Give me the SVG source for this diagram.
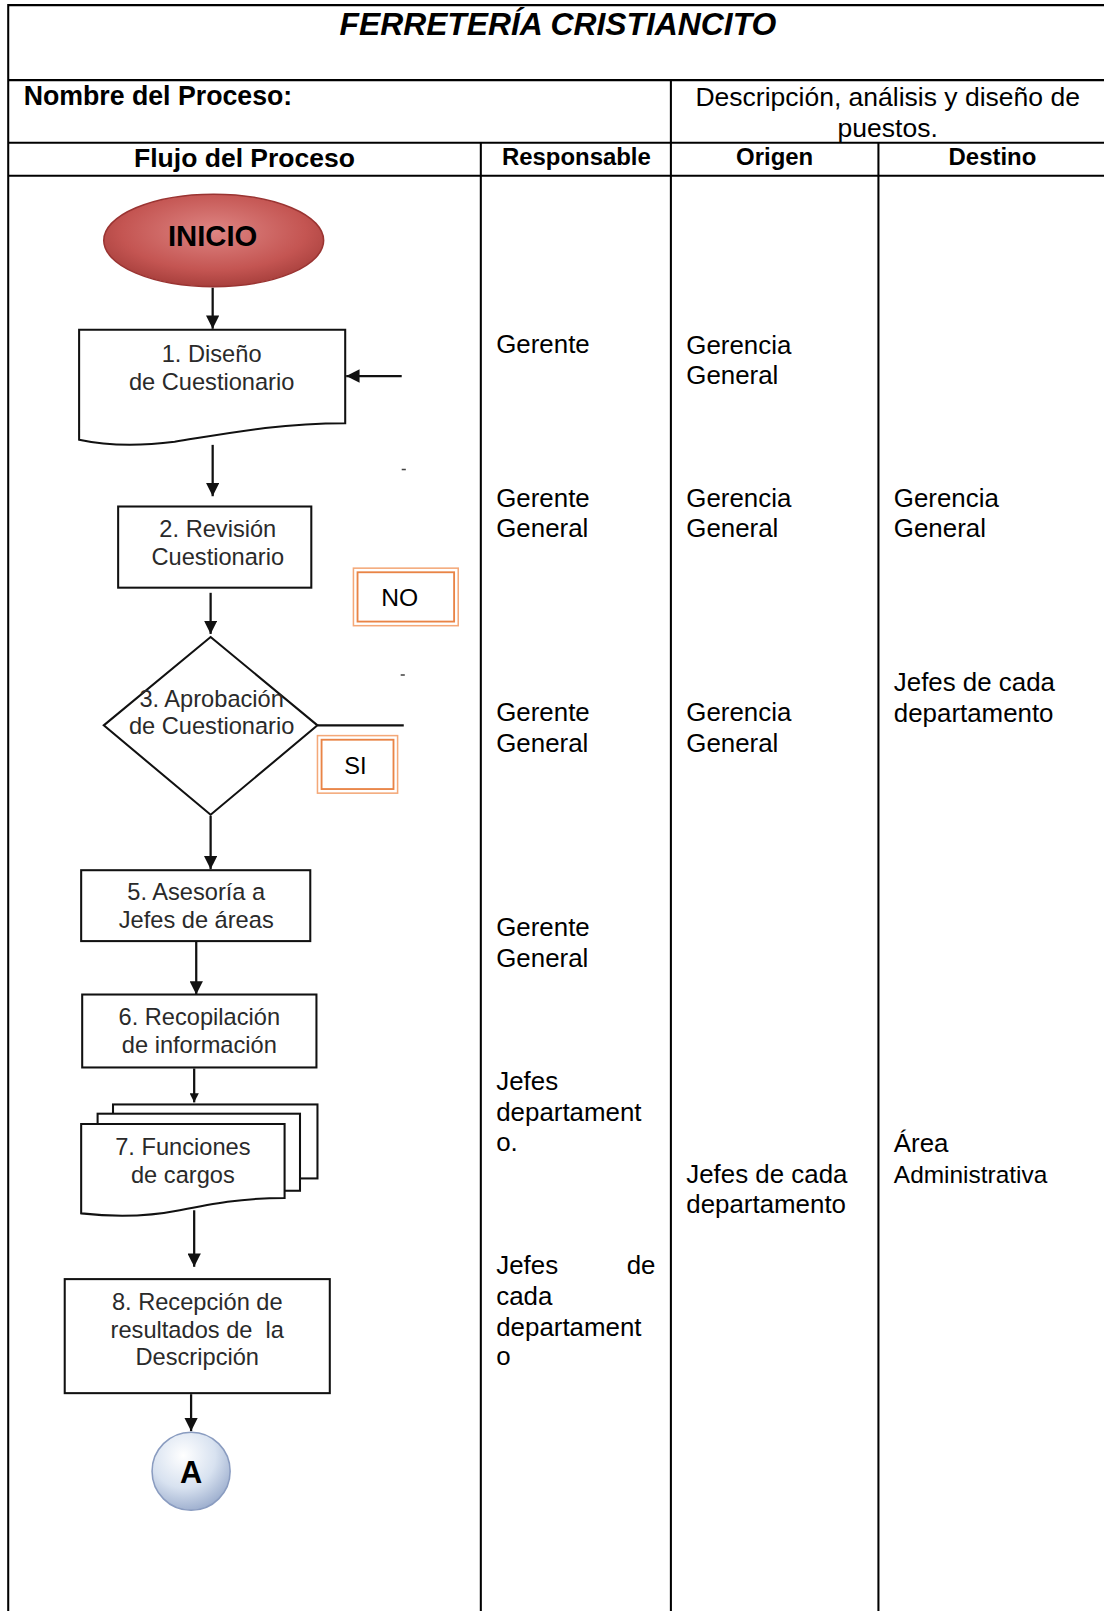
<svg xmlns="http://www.w3.org/2000/svg" width="1104" height="1611" viewBox="0 0 1104 1611">
<defs>
<style>
.t{font-family:"Liberation Sans",Arial,sans-serif;fill:#000}
.b{font-weight:bold}
.n{font-family:"Liberation Sans",Arial,sans-serif;font-size:23px;fill:#2a2a2a;text-anchor:middle}
.c{font-size:25.2px}
.grid{stroke:#000;stroke-width:2;fill:none}
.box{fill:#fff;stroke:#111;stroke-width:2}
.con{stroke:#111;stroke-width:2.2;fill:none}
.o1{fill:#fff;stroke:#f4a878;stroke-width:1.5}
.o2{fill:none;stroke:#e98446;stroke-width:1.8}
</style>
<marker id="ah" viewBox="0 0 12 12" refX="12" refY="6" markerWidth="13" markerHeight="13" markerUnits="userSpaceOnUse" orient="auto">
<path d="M0,0 L12,6 L0,12 z" fill="#111"/>
</marker>
<marker id="ahs" viewBox="0 0 12 12" refX="12" refY="6" markerWidth="9" markerHeight="9" markerUnits="userSpaceOnUse" orient="auto">
<path d="M0,0 L12,6 L0,12 z" fill="#111"/>
</marker>
<radialGradient id="red" cx="0.5" cy="0.4" r="0.6">
<stop offset="0" stop-color="#de8583"/>
<stop offset="0.7" stop-color="#c45552"/>
<stop offset="1" stop-color="#a8403d"/>
</radialGradient>
<radialGradient id="blue" cx="0.4" cy="0.3" r="0.75">
<stop offset="0" stop-color="#ffffff"/>
<stop offset="0.55" stop-color="#d8e2f0"/>
<stop offset="1" stop-color="#98aacb"/>
</radialGradient>
</defs>
<rect x="0" y="0" width="1104" height="1611" fill="#fff"/>
<g transform="scale(1.0274)">

<g id="table">
<line class="grid" x1="8" y1="5" x2="1075" y2="5"/>
<line class="grid" x1="8" y1="4" x2="8" y2="1570"/>
<line class="grid" x1="8" y1="78" x2="1075" y2="78"/>
<line class="grid" x1="8" y1="139" x2="1075" y2="139"/>
<line class="grid" x1="8" y1="171" x2="1075" y2="171"/>
<line class="grid" x1="653" y1="78" x2="653" y2="1570"/>
<line class="grid" x1="468" y1="139" x2="468" y2="1570"/>
<line class="grid" x1="855" y1="139" x2="855" y2="1570"/>
<text class="t b" x="543" y="34" font-size="31" font-style="italic" text-anchor="middle">FERRETERÍA CRISTIANCITO</text>
<text class="t b" x="23" y="102" font-size="26">Nombre del Proceso:</text>
<text class="t" x="864" y="103" font-size="25.8" text-anchor="middle">Descripción, análisis y diseño de</text>
<text class="t" x="864" y="133" font-size="25.8" text-anchor="middle">puestos.</text>
<text class="t b" x="238" y="163" font-size="25.8" text-anchor="middle">Flujo del Proceso</text>
<text class="t b" x="561" y="161" font-size="23.3" text-anchor="middle">Responsable</text>
<text class="t b" x="754" y="161" font-size="23.3" text-anchor="middle">Origen</text>
<text class="t b" x="966" y="161" font-size="23.3" text-anchor="middle">Destino</text>
</g>

<g id="columns">
<text class="t c" x="483" y="344">Gerente</text>
<text class="t c" x="668" y="345">Gerencia</text>
<text class="t c" x="668" y="374">General</text>
<text class="t c" x="483" y="493">Gerente</text>
<text class="t c" x="483" y="523">General</text>
<text class="t c" x="668" y="493">Gerencia</text>
<text class="t c" x="668" y="523">General</text>
<text class="t c" x="870" y="493">Gerencia</text>
<text class="t c" x="870" y="523">General</text>
<text class="t c" x="870" y="673">Jefes de cada</text>
<text class="t c" x="870" y="703">departamento</text>
<text class="t c" x="483" y="702">Gerente</text>
<text class="t c" x="483" y="732">General</text>
<text class="t c" x="668" y="702">Gerencia</text>
<text class="t c" x="668" y="732">General</text>
<text class="t c" x="483" y="911">Gerente</text>
<text class="t c" x="483" y="941">General</text>
<text class="t c" x="483" y="1061">Jefes</text>
<text class="t c" x="483" y="1091">departament</text>
<text class="t c" x="483" y="1120">o.</text>
<text class="t c" x="668" y="1151">Jefes de cada</text>
<text class="t c" x="668" y="1181">departamento</text>
<text class="t c" x="870" y="1121">Área</text>
<text class="t" x="870" y="1151" font-size="23.8">Administrativa</text>
<text class="t c" x="483" y="1240">Jefes</text>
<text class="t c" x="638" y="1240" text-anchor="end">de</text>
<text class="t c" x="483" y="1270">cada</text>
<text class="t c" x="483" y="1300">departament</text>
<text class="t c" x="483" y="1329">o</text>
</g>

<g id="connectors">
<line class="con" x1="207" y1="280" x2="207" y2="320" marker-end="url(#ah)"/>
<line class="con" x1="391" y1="366" x2="337" y2="366" stroke-width="3" marker-end="url(#ah)"/>
<line class="con" x1="207" y1="433" x2="207" y2="483" marker-end="url(#ah)"/>
<line class="con" x1="205" y1="577" x2="205" y2="617" marker-end="url(#ah)"/>
<line class="con" x1="309" y1="706" x2="393" y2="706"/>
<line class="con" x1="205" y1="794" x2="205" y2="846" stroke-width="2.6" marker-end="url(#ah)"/>
<line class="con" x1="191" y1="916" x2="191" y2="968" stroke-width="3.2" marker-end="url(#ah)"/>
<line class="con" x1="189" y1="1040" x2="189" y2="1073" marker-end="url(#ahs)"/>
<line class="con" x1="189" y1="1178" x2="189" y2="1233" stroke-width="2.6" marker-end="url(#ah)"/>
<line class="con" x1="186" y1="1357" x2="186" y2="1393" marker-end="url(#ah)"/>
<line x1="391" y1="457" x2="395" y2="457" stroke="#444" stroke-width="1.5"/>
<line x1="390" y1="657" x2="394" y2="657" stroke="#444" stroke-width="1.5"/>
</g>

<g id="inicio">
<ellipse cx="208" cy="234" rx="107" ry="45" fill="url(#red)" stroke="#9a3432" stroke-width="1.5"/>
<text class="t b" x="207" y="239" font-size="28.5" text-anchor="middle" fill="#222">INICIO</text>
</g>

<g id="n1">
<path class="box" d="M77,321 H336 V412 C 270,412 220,422 170,430 C 130,435 100,433 77,428 Z"/>
<text class="n" x="206" y="352">1. Diseño</text>
<text class="n" x="206" y="380">de Cuestionario</text>
</g>

<g id="n2">
<rect class="box" x="115" y="493" width="188" height="79"/>
<text class="n" x="212" y="523">2. Revisión</text>
<text class="n" x="212" y="550">Cuestionario</text>
</g>

<g id="n3">
<path class="box" d="M205,620 L309,706 L205,793 L101,706 Z"/>
<text class="n" x="206" y="688">3. Aprobación</text>
<text class="n" x="206" y="714">de Cuestionario</text>
</g>

<g id="no">
<rect class="o1" x="344" y="553" width="102" height="56"/>
<rect class="o2" x="348" y="557" width="94" height="48"/>
<text class="t" x="389" y="590" font-size="24" text-anchor="middle" fill="#222">NO</text>
</g>

<g id="si">
<rect class="o1" x="309" y="716" width="78" height="56"/>
<rect class="o2" x="313" y="720" width="70" height="48"/>
<text class="t" x="346" y="753" font-size="23" text-anchor="middle" fill="#222">SI</text>
</g>

<g id="n5">
<rect class="box" x="79" y="847" width="223" height="69"/>
<text class="n" x="191" y="876">5. Asesoría a</text>
<text class="n" x="191" y="903">Jefes de áreas</text>
</g>

<g id="n6">
<rect class="box" x="80" y="968" width="228" height="71"/>
<text class="n" x="194" y="998">6. Recopilación</text>
<text class="n" x="194" y="1025">de información</text>
</g>

<g id="n7">
<rect class="box" x="110" y="1075" width="199" height="72"/>
<rect class="box" x="95" y="1084" width="197" height="75"/>
<path class="box" d="M79,1094 H277 V1166 C 235,1166 205,1172 175,1178 C 140,1185 105,1184 79,1181 Z"/>
<text class="n" x="178" y="1124">7. Funciones</text>
<text class="n" x="178" y="1151">de cargos</text>
</g>

<g id="n8">
<rect class="box" x="63" y="1245" width="258" height="111"/>
<text class="n" x="192" y="1275">8. Recepción de</text>
<text class="n" x="192" y="1302" xml:space="preserve">resultados de  la</text>
<text class="n" x="192" y="1329">Descripción</text>
</g>

<g id="a">
<circle cx="186" cy="1432" r="38" fill="url(#blue)" stroke="#8a9cc0" stroke-width="1.5"/>
<text class="t b" x="186" y="1443" font-size="30" text-anchor="middle">A</text>
</g>
</g>
</svg>
